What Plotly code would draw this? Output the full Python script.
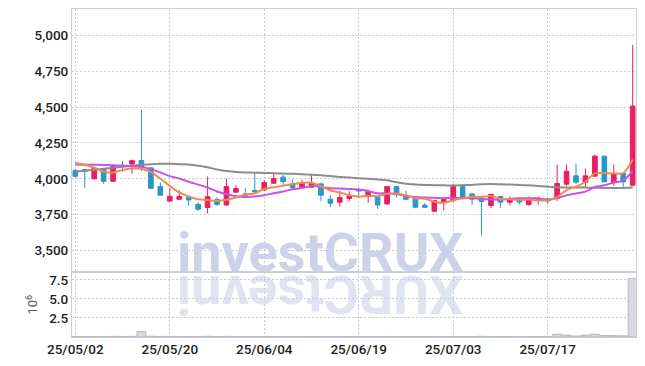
import plotly.graph_objects as go
from plotly.subplots import make_subplots

dates = ["25/05/02", "25/05/07", "25/05/08", "25/05/09", "25/05/12", "25/05/13", "25/05/14", "25/05/15",
         "25/05/16", "25/05/19", "25/05/20", "25/05/21", "25/05/22", "25/05/23", "25/05/26", "25/05/27",
         "25/05/28", "25/05/29", "25/05/30", "25/06/02", "25/06/04", "25/06/05", "25/06/09", "25/06/10",
         "25/06/11", "25/06/12", "25/06/13", "25/06/16", "25/06/17", "25/06/18", "25/06/19", "25/06/20",
         "25/06/23", "25/06/24", "25/06/25", "25/06/26", "25/06/27", "25/06/30", "25/07/01", "25/07/02",
         "25/07/03", "25/07/04", "25/07/07", "25/07/08", "25/07/09", "25/07/10", "25/07/11", "25/07/14",
         "25/07/15", "25/07/16", "25/07/17", "25/07/18", "25/07/21", "25/07/22", "25/07/23", "25/07/24",
         "25/07/25", "25/07/28", "25/07/29", "25/07/30"]

open_ = [4058, 4065, 4000, 4070, 3983, 4095, 4103, 4128, 4077, 3946,
         3845, 3858, 3872, 3822, 3800, 3855, 3818, 3907, 3895, 3920,
         3923, 3970, 4012, 3965, 3937, 3942, 3965, 3858, 3837, 3863,
         3925, 3877, 3872, 3825, 3946, 3879, 3860, 3816, 3774, 3837,
         3850, 3946, 3895, 3867, 3814, 3877, 3837, 3853, 3820, 3849,
         3860, 3863, 3963, 4021, 3977, 4019, 4158, 3977, 4037, 3956]
high = [4070, 4070, 4080, 4072, 4090, 4125, 4133, 4482, 4080, 3976,
        3938, 3920, 3880, 3838, 4015, 3872, 4002, 3955, 3937, 4037,
        3990, 4035, 4030, 3995, 3993, 4030, 3968, 3886, 3918, 3914,
        3940, 3925, 3877, 3950, 3950, 3918, 3862, 3832, 3853, 3865,
        3965, 3948, 3902, 3870, 3895, 3880, 3877, 3872, 3877, 3877,
        3865, 4100, 4100, 4107, 4072, 4170, 4160, 4100, 4040, 4933]
low = [4010, 3937, 3997, 3965, 3980, 4048, 4035, 4053, 3928, 3884,
       3842, 3855, 3813, 3778, 3758, 3812, 3812, 3900, 3867, 3905,
       3914, 3965, 3953, 3930, 3932, 3938, 3844, 3802, 3807, 3844,
       3865, 3832, 3790, 3822, 3872, 3850, 3797, 3797, 3772, 3779,
       3838, 3865, 3818, 3605, 3797, 3797, 3814, 3820, 3814, 3820,
       3825, 3846, 3951, 3963, 3937, 4015, 3977, 3951, 3944, 3950]
close = [4018, 4053, 4074, 3983, 4088, 4088, 4127, 4081, 3934, 3886,
         3878, 3877, 3853, 3788, 3876, 3822, 3946, 3932, 3886, 3910,
         3974, 4002, 3981, 3940, 3970, 3970, 3886, 3830, 3870, 3881,
         3915, 3912, 3818, 3946, 3895, 3858, 3802, 3802, 3849, 3856,
         3946, 3867, 3858, 3842, 3891, 3837, 3858, 3839, 3853, 3860,
         3846, 3967, 4053, 3977, 4021, 4158, 3979, 4037, 3979, 4507]

volume_millions = [0.06, 0.05, 0.07, 0.06, 0.08, 0.07, 0.09, 0.70, 0.10, 0.08,
                   0.07, 0.05, 0.06, 0.07, 0.09, 0.06, 0.08, 0.06, 0.05, 0.07,
                   0.06, 0.07, 0.06, 0.05, 0.05, 0.06, 0.07, 0.06, 0.05, 0.05,
                   0.05, 0.06, 0.06, 0.07, 0.06, 0.05, 0.06, 0.05, 0.06, 0.05,
                   0.07, 0.06, 0.05, 0.09, 0.06, 0.05, 0.05, 0.04, 0.05, 0.05,
                   0.08, 0.35, 0.25, 0.12, 0.25, 0.35, 0.20, 0.18, 0.15, 7.70]

ma5 = [4112, 4098, 4077, 4050, 4044, 4062, 4072, 4070, 4047, 4002,
       3950, 3905, 3878, 3858, 3853, 3845, 3855, 3870, 3890, 3900,
       3930, 3942, 3952, 3962, 3973, 3973, 3949, 3919, 3905, 3887,
       3876, 3882, 3879, 3894, 3897, 3886, 3864, 3861, 3841, 3833,
       3851, 3864, 3875, 3874, 3881, 3859, 3857, 3853, 3856, 3849,
       3851, 3875, 3922, 3945, 3980, 4038, 4040, 4038, 4040, 4135]
ma10 = [4100, 4099, 4098, 4097, 4095, 4092, 4088, 4082, 4068, 4045,
        4019, 4002, 3980, 3960, 3939, 3912, 3894, 3879, 3874, 3877,
        3886, 3899, 3912, 3927, 3936, 3951, 3945, 3935, 3933, 3930,
        3925, 3916, 3899, 3900, 3892, 3881, 3873, 3870, 3868, 3865,
        3868, 3864, 3868, 3858, 3857, 3855, 3861, 3864, 3865, 3865,
        3855, 3866, 3885, 3898, 3911, 3943, 3955, 3975, 3988, 4055]
ma60 = [4051, 4056, 4063, 4070, 4077, 4084, 4091, 4098, 4102, 4105,
        4105, 4102, 4100, 4091, 4081, 4065, 4055, 4048, 4045, 4043,
        4041, 4039, 4037, 4035, 4032, 4029, 4025, 4020, 4013, 4010,
        4005, 4000, 3996, 3990, 3976, 3966, 3961, 3958, 3956, 3955,
        3953, 3955, 3958, 3962, 3964, 3962, 3960, 3958, 3955, 3950,
        3945, 3942, 3940, 3940, 3939, 3938, 3937, 3937, 3937, 3939]

x_ticks = ["25/05/02", "25/05/20", "25/06/04", "25/06/19", "25/07/03", "25/07/17"]
price_ticks = [3500, 3750, 4000, 4250, 4500, 4750, 5000]
vol_ticks = [2.5, 5.0, 7.5]
vol_tick_text = ["2.5", "5.0", "7.5"]

RED = "#E91E63"
BLUE = "#2B96C9"
GRID = "#C6CADD"
FRAME = "#CDCDD5"
FONT = "Roboto, sans-serif"

fig = make_subplots(rows=2, cols=1, shared_xaxes=True, vertical_spacing=0,
                    row_heights=[0.803, 0.197])

fig.add_trace(go.Scatter(x=dates, y=ma60, mode="lines",
                         line=dict(color="#8C8C8C", width=2, shape="spline", smoothing=0.8),
                         hoverinfo="skip"), row=1, col=1)
fig.add_trace(go.Scatter(x=dates, y=ma10, mode="lines",
                         line=dict(color="#C952E8", width=2, shape="spline", smoothing=0.8),
                         hoverinfo="skip"), row=1, col=1)
fig.add_trace(go.Scatter(x=dates, y=ma5, mode="lines",
                         line=dict(color="#F08A4E", width=2, shape="spline", smoothing=0.8),
                         hoverinfo="skip"), row=1, col=1)
fig.add_trace(go.Candlestick(x=dates, open=open_, high=high, low=low, close=close,
                             increasing=dict(line=dict(color=RED, width=1), fillcolor=RED),
                             decreasing=dict(line=dict(color=BLUE, width=1), fillcolor=BLUE),
                             whiskerwidth=0), row=1, col=1)
fig.add_trace(go.Bar(x=dates, y=volume_millions,
                     marker=dict(color="#D8D8E0", line=dict(color="#B8B8C2", width=1))),
              row=2, col=1)

axis_common = dict(showline=True, mirror=True, linecolor=FRAME, linewidth=1,
                   gridcolor=GRID, griddash="2px,2px", gridwidth=1, zeroline=False,
                   ticks="", automargin=False,
                   tickfont=dict(family=FONT, size=13.5, color="#1E1E1E", weight=500))

fig.update_xaxes(type="category", range=[-0.35, 59.35], tickvals=x_ticks,
                 showgrid=True, rangeslider_visible=False, **axis_common)
fig.update_xaxes(showticklabels=False, row=1, col=1)
fig.update_yaxes(range=[3348, 5184], tickvals=price_ticks, tickformat=",",
                 showgrid=True, row=1, col=1, **axis_common)
fig.update_yaxes(range=[0, 8.5], tickvals=vol_ticks, ticktext=vol_tick_text,
                 showgrid=True, row=2, col=1,
                 title=dict(text="10<sup>6</sup>", standoff=8,
                            font=dict(family=FONT, size=13, color="#555555")),
                 **axis_common)

fig.add_annotation(text="<b>investCRUX</b>", xref="paper", yref="paper",
                   x=0.44, y=0.197, xanchor="center", yanchor="bottom", showarrow=False,
                   yshift=-14,
                   font=dict(family="Roboto, sans-serif", size=54, color="#CCD3E8"))
fig.add_annotation(text="<b>XURCtsevni</b>", xref="paper", yref="paper", textangle=180,
                   x=0.44, y=0.197, xanchor="center", yanchor="top", showarrow=False,
                   yshift=12, opacity=0.6,
                   font=dict(family="Roboto, sans-serif", size=54, color="#CCD3E8"))

fig.update_layout(width=645, height=366, margin=dict(l=72, r=9, t=9, b=29, autoexpand=False),
                  plot_bgcolor="white", paper_bgcolor="white", showlegend=False,
                  bargap=0.05, hovermode=False)

fig.write_html("out.html", config={"displayModeBar": False, "staticPlot": True},
               post_script="document.body.style.margin='0px';document.body.style.overflow='hidden';")
